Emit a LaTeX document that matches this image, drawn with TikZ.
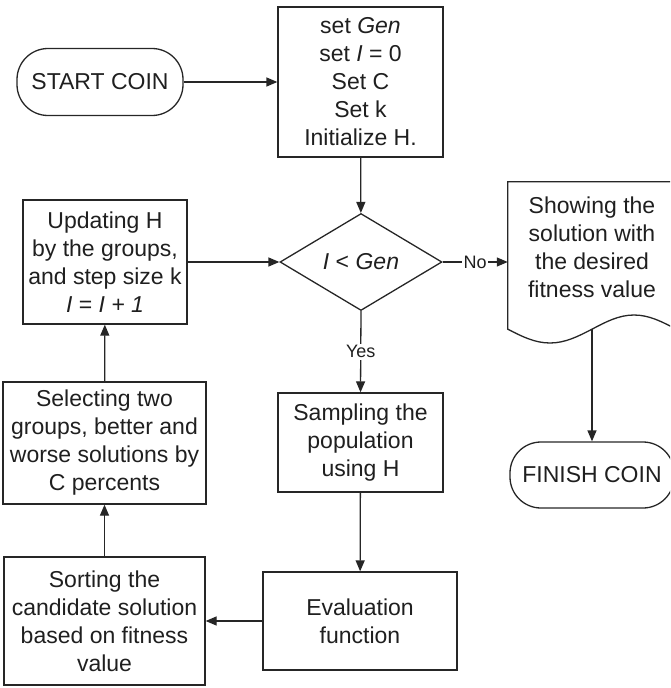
\documentclass[tikz,border=0pt]{standalone}
\usepackage{fontspec}
\setmainfont{Liberation Sans}
\usetikzlibrary{shapes.geometric,arrows.meta}
\begin{document}
\begin{tikzpicture}[x=1pt,y=-1pt,
  every node/.style={font=\fontsize{23}{28}\selectfont, text=black!88, align=center, inner sep=0pt},
  line/.style={draw=black!85, line width=1.3pt},
  box/.style={line, rectangle},
  term/.style={line, rectangle, rounded corners=31pt},
  cond/.style={line, diamond, aspect=1.67},
  arr/.style={line, -{Triangle[length=11pt,width=9pt]}},
  lab/.style={font=\fontsize{18}{20}\selectfont, fill=white, inner sep=1.5pt}
]
\clip (0,0) rectangle (670,688);

\node[term, minimum width=166pt, minimum height=67pt] (start) at (100,82) {START COIN};
\node[box, minimum width=165pt, minimum height=150pt] (init) at (360.5,82)
  {set \textit{Gen}\\ set \textit{I} = 0\\ Set C\\ Set k\\ Initialize H.};
\node[cond, minimum width=162pt, minimum height=97pt] (test) at (361,262)
  {\textit{I} < \textit{Gen}};
\node[box, minimum width=164pt, minimum height=124pt] (update) at (105,262)
  {Updating H\\ by the groups,\\ and step size k\\ \textit{I} = \textit{I + 1}};
\node[box, minimum width=203pt, minimum height=122pt] (select) at (104.5,443)
  {Selecting two\\ groups, better and\\ worse solutions by\\ C percents};
\node[box, minimum width=201pt, minimum height=128pt] (sort) at (104.5,621)
  {Sorting the\\ candidate solution\\ based on fitness\\ value};
\node[box, minimum width=165pt, minimum height=99pt] (sample) at (360.5,442.5)
  {Sampling the\\ population\\ using H};
\node[box, minimum width=194pt, minimum height=98pt] (eval) at (360,621)
  {Evaluation\\ function};
\node[rectangle, minimum width=168pt, minimum height=147pt] (show) at (592,255.5) {};
\node (showtxt) at (592,247) {Showing the\\ solution with\\ the desired\\ fitness value};
\node[term, minimum width=164pt, minimum height=66pt] (fin) at (592,475) {FINISH COIN};

\draw[line] (show.south west) -- (show.north west) -- (show.north east) -- (show.south east)
  sin (634,315) cos (show.south) sin (550,343) cos (show.south west) -- cycle;

\draw[arr] (start) -- (init);
\draw[arr] (init) -- (test);
\draw[arr] (test.east) -- node[lab] (no) {No} (test.east -| show.west);
\draw[arr] (test.south) -- node[lab] (yes) {Yes} (sample.north);
\draw[arr] (sample) -- (eval);
\draw[arr] (eval) -- (sort);
\draw[arr] (sort) -- (select);
\draw[arr] (select) -- (update);
\draw[arr] (update.east) -- (test.west);
\draw[arr] (show.south) -- (fin.north);
\end{tikzpicture}
\end{document}
